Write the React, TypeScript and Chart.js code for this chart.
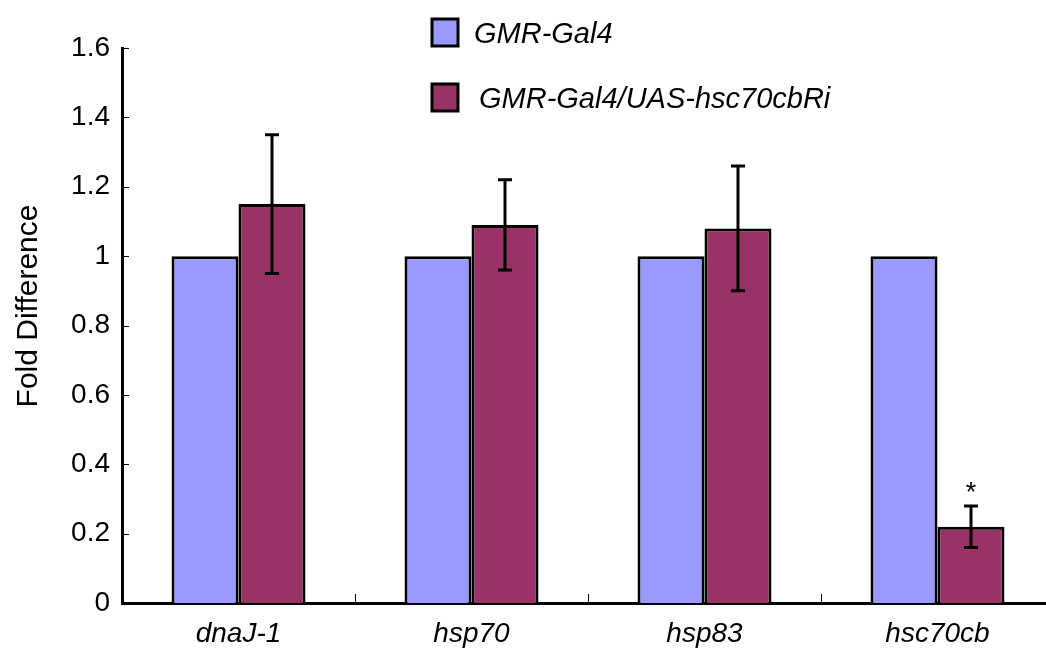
import React, { useEffect, useRef } from "react";
import { Chart, registerables } from "chart.js";

Chart.register(...registerables);

const categories = ["dnaJ-1", "hsp70", "hsp83", "hsc70cb"];
const seriesLabels = ["GMR-Gal4", "GMR-Gal4/UAS-hsc70cbRi"];
const controlValues = [1, 1, 1, 1];
const rnaiValues = [1.15, 1.09, 1.08, 0.22];
const rnaiErrors = [0.2, 0.13, 0.18, 0.06];
const significance = ["", "", "", "*"];
const yTicks = [0, 0.2, 0.4, 0.6, 0.8, 1, 1.2, 1.4, 1.6];
const yTitle = "Fold Difference";

const FONT = "'Liberation Sans', Arial, sans-serif";
const BLUE = "#9999FF";
const MAROON = "#993366";

const overlayPlugin = {
  id: "overlay",
  afterDatasetsDraw(chart: any) {
    const ctx = chart.ctx;
    const y = chart.scales.y;
    const x = chart.scales.x;
    const area = chart.chartArea;
    ctx.save();
    // error bars
    const meta = chart.getDatasetMeta(1);
    ctx.strokeStyle = "#000";
    ctx.lineWidth = 3;
    meta.data.forEach((bar: any, i: number) => {
      const v = rnaiValues[i];
      const e = rnaiErrors[i];
      const cx = Math.round(bar.x);
      const top = y.getPixelForValue(v + e);
      const bot = y.getPixelForValue(v - e);
      ctx.beginPath();
      ctx.moveTo(cx, top);
      ctx.lineTo(cx, bot);
      ctx.moveTo(cx - 7, top);
      ctx.lineTo(cx + 7, top);
      ctx.moveTo(cx - 7, bot);
      ctx.lineTo(cx + 7, bot);
      ctx.stroke();
      if (significance[i]) {
        ctx.fillStyle = "#000";
        ctx.font = `27px ${FONT}`;
        ctx.textAlign = "center";
        ctx.textBaseline = "middle";
        ctx.fillText(significance[i], cx, top - 12);
      }
    });
    // inward y ticks
    ctx.lineWidth = 1;
    yTicks.forEach((t) => {
      const py = Math.round(y.getPixelForValue(t)) + 0.5;
      ctx.beginPath();
      ctx.moveTo(area.left, py);
      ctx.lineTo(area.left + 7, py);
      ctx.stroke();
    });
    // inward x ticks between categories
    for (let i = 1; i < categories.length; i++) {
      const px = Math.round((x.getPixelForValue(i - 1) + x.getPixelForValue(i)) / 2) + 0.5;
      ctx.beginPath();
      ctx.moveTo(px, area.bottom);
      ctx.lineTo(px, area.bottom - 9);
      ctx.stroke();
    }
    // y title
    ctx.save();
    ctx.translate(29, 306);
    ctx.rotate(-Math.PI / 2);
    ctx.fillStyle = "#000";
    ctx.font = `30px ${FONT}`;
    ctx.textAlign = "center";
    ctx.textBaseline = "middle";
    ctx.fillText(yTitle, 0, 0);
    ctx.restore();
    // legend
    const colors = [BLUE, MAROON];
    const boxes = [
      { x: 432, y: 19, tx: 474, ty: 35 },
      { x: 432, y: 84, tx: 479, ty: 100 },
    ];
    boxes.forEach((b, i) => {
      ctx.fillStyle = colors[i];
      ctx.fillRect(b.x, b.y, 26, 27);
      ctx.lineWidth = 3;
      ctx.strokeStyle = "#000";
      ctx.strokeRect(b.x, b.y, 26, 27);
      ctx.fillStyle = "#000";
      ctx.font = `italic 29px ${FONT}`;
      ctx.textAlign = "left";
      ctx.textBaseline = "middle";
      ctx.fillText(seriesLabels[i], b.tx, b.ty);
    });
    ctx.restore();
  },
};

export default function App() {
  const ref = useRef<HTMLCanvasElement>(null);
  useEffect(() => {
    if (!ref.current) return;
    const chart = new Chart(ref.current, {
      type: "bar",
      data: {
        labels: categories,
        datasets: [
          {
            label: seriesLabels[0],
            data: controlValues,
            backgroundColor: BLUE,
            borderColor: "#000",
            borderWidth: 3,
            categoryPercentage: 0.575,
            barPercentage: 1,
          },
          {
            label: seriesLabels[1],
            data: rnaiValues,
            backgroundColor: MAROON,
            borderColor: "#000",
            borderWidth: 3,
            categoryPercentage: 0.575,
            barPercentage: 1,
          },
        ],
      },
      options: {
        responsive: false,
        animation: false,
        layout: { padding: { top: 48, right: 6, left: 0, bottom: 0 } },
        plugins: { legend: { display: false }, tooltip: { enabled: false } },
        scales: {
          x: {
            grid: { display: false, drawTicks: false },
            border: { display: true, color: "#000", width: 3 },
            ticks: {
              color: "#000",
              padding: 14,
              font: { family: FONT, size: 28, style: "italic" },
            },
            afterFit(scale: any) {
              scale.height = 49;
            },
          },
          y: {
            min: 0,
            max: 1.6,
            afterBuildTicks(scale: any) {
              scale.ticks = yTicks.map((v) => ({ value: v }));
            },
            grid: { display: false, drawTicks: false },
            border: { display: true, color: "#000", width: 3 },
            ticks: {
              color: "#000",
              padding: 12,
              font: { family: FONT, size: 28 },
              callback: (v: any) => String(Math.round(Number(v) * 10) / 10),
            },
            afterFit(scale: any) {
              scale.width = 122;
            },
          },
        },
      },
      plugins: [overlayPlugin],
    });
    return () => chart.destroy();
  }, []);
  return (
    <div
      style={{
        position: "fixed",
        left: 0,
        top: 0,
        width: 1046,
        height: 652,
        overflow: "hidden",
        background: "#fff",
      }}
    >
      <canvas ref={ref} width={1060} height={652} style={{ display: "block" }} />
    </div>
  );
}
